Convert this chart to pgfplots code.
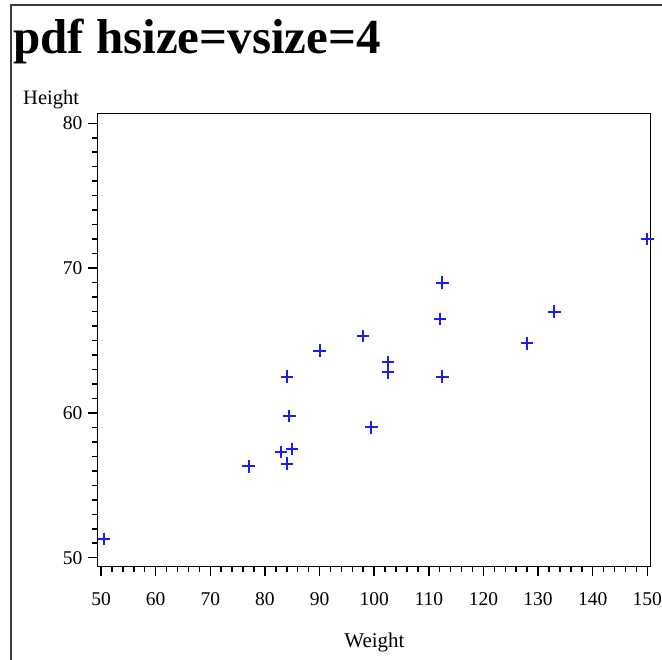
\documentclass[border=0pt]{standalone}
\usepackage{fontspec}
\setmainfont{Liberation Serif}
\usepackage{pgfplots}
\pgfplotsset{compat=1.18}
\definecolor{markblue}{RGB}{30,30,230}
\definecolor{framegray}{RGB}{60,60,60}
\begin{document}
\begin{tikzpicture}
\useasboundingbox (0pt,0pt) rectangle (662pt,660pt);
\draw[framegray, line width=1.6pt] (11pt,0pt) -- (11pt,655pt) -- (662pt,655pt);
\node[anchor=base west, inner sep=0pt, font=\bfseries\fontsize{49}{49}\selectfont] at (13pt,606.7pt) {pdf hsize=vsize=4};
\node[anchor=base west, inner sep=0pt, font=\fontsize{20.5}{20.5}\selectfont] at (23pt,555pt) {Height};
\node[anchor=base, inner sep=0pt, font=\fontsize{21}{21}\selectfont] at (374.5pt,12pt) {Weight};
\begin{axis}[
  at={(97.3pt,93.3pt)}, anchor=south west,
  scale only axis, width=553.4pt, height=453.4pt,
  xmin=49.32, xmax=150.62, ymin=49.38, ymax=80.69,
  xtick={50,60,...,150}, ytick={50,60,70,80},
  minor x tick num=4, minor y tick num=9,
  tick align=outside, xtick pos=bottom, ytick pos=left,
  major tick length=9.5pt, minor tick length=5.5pt,
  axis line style={line width=1.5pt},
  major tick style={black, line width=1.5pt},
  minor tick style={black, line width=1.5pt},
  /pgf/number format/assume math mode=true,
  ticklabel style={font=\fontsize{19.5}{19.5}\selectfont},
  xticklabel style={yshift=-13pt},
  yticklabel style={xshift=-2pt},
  clip=false,
]
\addplot[only marks, mark=+, mark size=6.2pt, mark options={line width=2pt, draw=markblue}, color=markblue] coordinates {
(112.5,69.0) (84.0,56.5) (98.0,65.3) (102.5,62.8) (102.5,63.5)
(83.0,57.3) (84.5,59.8) (112.5,62.5) (84.0,62.5) (99.5,59.0)
(50.5,51.3) (90.0,64.3) (77.0,56.3) (112.0,66.5) (150.0,72.0)
(128.0,64.8) (133.0,67.0) (85.0,57.5) (112.0,66.5)
};
\end{axis}
\end{tikzpicture}
\end{document}
